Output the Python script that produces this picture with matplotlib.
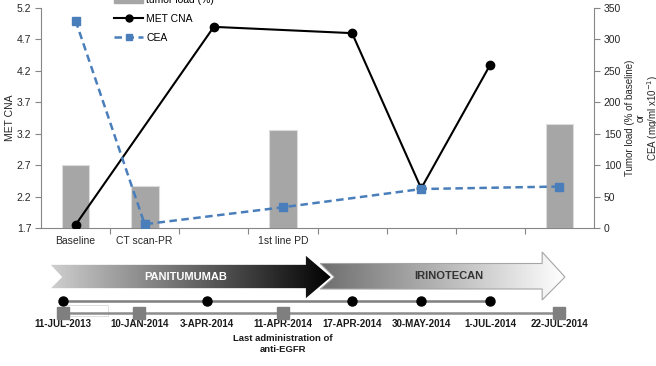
import numpy as np
import matplotlib
matplotlib.use("Agg")
import matplotlib.pyplot as plt
from matplotlib.patches import Polygon, Rectangle
from matplotlib.lines import Line2D

plt.rcParams['font.family'] = ['Liberation Sans', 'DejaVu Sans']

# ---------------- data ----------------
categories = ["Baseline", "CT scan-PR", "", "1st line PD", "", "", "", ""]
tumor_idx = [0, 1, 3, 7]
tumor_load = [100, 67, 156, 165]
met_idx = [0, 2, 4, 5, 6]
met_cna = [1.75, 4.9, 4.8, 2.33, 4.3]
cea_idx = [0, 1, 3, 5, 7]
cea = [330, 6, 33, 62, 66]

met_ticks = [1.7, 2.2, 2.7, 3.2, 3.7, 4.2, 4.7, 5.2]
right_ticks = [0, 50, 100, 150, 200, 250, 300, 350]

timeline_dates = ["11-JUL-2013", "10-JAN-2014", "3-APR-2014", "11-APR-2014",
                  "17-APR-2014", "30-MAY-2014", "1-JUL-2014", "22-JUL-2014"]
timeline_pos = [-0.18, 0.92, 1.9, 3.0, 4.0, 5.0, 6.0, 7.0]
met_events = [0, 2, 4, 5, 6]      # indices into timeline (black dots)
scan_events = [0, 1, 3, 7]        # indices into timeline (grey squares)

W, H = 656, 366
fig = plt.figure(figsize=(W / 100, H / 100), dpi=100)
fig.patch.set_facecolor('white')

L, R, T, B = 41, 594, 8, 228
rect = [L / W, 1 - B / H, (R - L) / W, (B - T) / H]
ax2 = fig.add_axes(rect)             # right scale (bars)
ax = fig.add_axes(rect, sharex=ax2)  # MET CNA (left scale)
ax3 = fig.add_axes(rect, sharex=ax2)  # CEA (right scale, on top)

x = np.arange(len(categories))
gray_axis = '#868686'
txt_col = '#262626'

# bars
ax2.bar(tumor_idx, tumor_load, width=0.4, color='#a6a6a6', edgecolor='#dcdcdc',
        linewidth=0.8, zorder=2)
ax2.set_ylim(0, 350)
ax2.set_xlim(-0.5, len(categories) - 0.5)
ax2.yaxis.tick_right()
ax2.yaxis.set_label_position('right')
ax2.set_yticks(right_ticks)
ax2.set_yticklabels([str(v) for v in right_ticks])
ax2.set_xticks(x)
ax2.set_xticklabels(categories)
ax2.set_xticks(np.arange(len(categories) - 1) + 0.5, minor=True)
ax2.tick_params(axis='x', which='major', length=0, pad=6, labelsize=7.5, colors=txt_col)
ax2.tick_params(axis='x', which='minor', length=4, color=gray_axis, width=0.8)
ax2.tick_params(axis='y', length=4, color=gray_axis, width=0.8, labelsize=7.5,
                colors=txt_col, pad=3)
for s in ['top', 'left']:
    ax2.spines[s].set_visible(False)
for s in ['right', 'bottom']:
    ax2.spines[s].set_color(gray_axis)
    ax2.spines[s].set_linewidth(0.8)
ax2.set_ylabel("Tumor load (% of baseline)\nor\nCEA (mg/ml x10$^{-1}$)", fontsize=7,
               color=txt_col, labelpad=3, linespacing=1.0)

# MET CNA
ax.patch.set_visible(False)
ax.plot(met_idx, met_cna, color='black', lw=1.5, marker='o', ms=6, zorder=3)
ax.set_ylim(1.7, 5.2)
ax.set_yticks(met_ticks)
ax.set_yticklabels([f"{v:.1f}" for v in met_ticks])
ax.tick_params(axis='y', length=4, color=gray_axis, width=0.8, labelsize=7.5,
               colors=txt_col, pad=3)
ax.tick_params(axis='x', which='both', length=0, labelbottom=False)
for s in ['top', 'right', 'bottom']:
    ax.spines[s].set_visible(False)
ax.spines['left'].set_color(gray_axis)
ax.spines['left'].set_linewidth(0.8)
ax.set_ylabel("MET CNA", fontsize=7.5, color=txt_col, labelpad=1)

# CEA
ax3.patch.set_visible(False)
ax3.plot(cea_idx, cea, color='#4a7ebb', lw=1.8, ls=(0, (3, 1.8)), marker='s', ms=6,
         zorder=4)
ax3.set_ylim(0, 350)
ax3.axis('off')

# legend
handles = [Rectangle((0, 0), 1, 1, color='#a6a6a6'),
           Line2D([], [], color='black', lw=1.5, marker='o', ms=5),
           Line2D([], [], color='#4a7ebb', lw=1.8, ls=(0, (3, 1.8)), marker='s', ms=5)]
labels = ["tumor load (%)", "MET CNA", "CEA"]
fig.legend(handles, labels, loc='upper left', bbox_to_anchor=(114 / W, 1 + 5 / H),
           frameon=False, fontsize=7.5, handlelength=2.8, handletextpad=0.3,
           labelspacing=0.85, borderaxespad=0, borderpad=0)

# ---------------- timeline / arrows ----------------
tl = fig.add_axes([L / W, 0, (R - L) / W, 1])
tl.set_xlim(-0.5, len(categories) - 0.5)
tl.set_ylim(H, 0)
tl.axis('off')
tl.patch.set_visible(False)


def gradient_poly(axis, verts, c0, c1, edge=None, lw=0.0, z=1):
    poly = Polygon(verts, closed=True, facecolor='none',
                   edgecolor=edge if edge else 'none', lw=lw, zorder=z + 0.1)
    axis.add_patch(poly)
    xs = [v[0] for v in verts]
    ys = [v[1] for v in verts]
    g = np.linspace(0, 1, 256)[None, :, None]
    c0 = np.array(matplotlib.colors.to_rgb(c0))[None, None, :]
    c1 = np.array(matplotlib.colors.to_rgb(c1))[None, None, :]
    img = c0 * (1 - g) + c1 * g
    img = np.repeat(img, 2, axis=0)
    im = axis.imshow(img, extent=[min(xs), max(xs), max(ys), min(ys)],
                     aspect='auto', zorder=z, interpolation='bilinear')
    clip = Polygon(verts, closed=True, transform=axis.transData)
    im.set_clip_path(clip)
    return poly


# Irinotecan arrow (behind)
iri = [(3.54, 263.5), (6.75, 263.5), (6.75, 252), (7.08, 277), (6.75, 300),
       (6.75, 289), (3.54, 289), (3.74, 277)]
gradient_poly(tl, iri, '#6e6e6e', '#ffffff', edge='#a6a6a6', lw=0.8, z=1)
# Panitumumab arrow
pan = [(-0.385, 264), (3.32, 264), (3.32, 254), (3.71, 277), (3.32, 300),
       (3.32, 289), (-0.385, 289), (-0.21, 277)]
gradient_poly(tl, pan, '#d0d0d0', '#000000', edge='white', lw=1.2, z=2)
tl.text(1.6, 277, "PANITUMUMAB", color='white', fontsize=8, fontweight='bold',
        ha='center', va='center', zorder=5)
tl.text(5.4, 276, "IRINOTECAN", color='#333333', fontsize=8, fontweight='bold',
        ha='center', va='center', zorder=5)

# timeline lines
mp = [timeline_pos[i] for i in met_events]
sp = [timeline_pos[i] for i in scan_events]
tl.plot([min(mp), max(mp)], [301, 301], color='#7f7f7f', lw=1.8, zorder=3)
tl.plot(mp, [301] * len(mp), ls='none', marker='o', color='black', ms=6.5, zorder=4)
tl.plot([min(sp), max(sp)], [313, 313], color='#8c8c8c', lw=1.8, zorder=3)
tl.plot(sp, [313] * len(sp), ls='none', marker='s', color='#7f7f7f', ms=8, zorder=4)
tl.add_patch(Rectangle((-0.18, 305), 0.65, 11, fill=False, edgecolor='#d9d9d9',
                       lw=0.6, zorder=2))

for p, d in zip(timeline_pos, timeline_dates):
    tl.text(p, 324, d, fontsize=7, fontweight='bold', ha='center', va='center',
            color='#1a1a1a')
tl.text(timeline_pos[3], 344, "Last administration of\nanti-EGFR", fontsize=6.8,
        fontweight='bold', ha='center', va='center', color='#1a1a1a', linespacing=1.3)

fig.savefig("out.png", dpi=100)
